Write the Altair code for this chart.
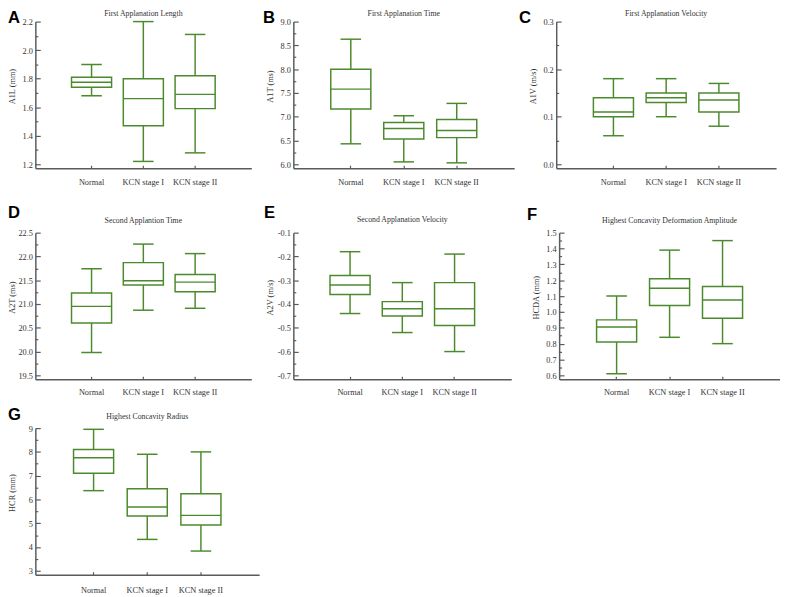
import altair as alt
import pandas as pd

groups = ["Normal", "KCN stage I", "KCN stage II"]

# A: First Applanation Length (mm)
a_min = [1.68, 1.22, 1.28]
a_q1 = [1.74, 1.47, 1.59]
a_med = [1.775, 1.66, 1.69]
a_q3 = [1.81, 1.80, 1.82]
a_max = [1.90, 2.20, 2.11]

# B: First Applanation Time (ms)
b_min = [6.43, 6.05, 6.03]
b_q1 = [7.16, 6.53, 6.56]
b_med = [7.58, 6.75, 6.71]
b_q3 = [8.00, 6.88, 6.94]
b_max = [8.63, 7.02, 7.28]

# C: First Applanation Velocity (m/s)
c_min = [0.06, 0.10, 0.08]
c_q1 = [0.10, 0.13, 0.11]
c_med = [0.11, 0.14, 0.135]
c_q3 = [0.14, 0.15, 0.15]
c_max = [0.18, 0.18, 0.17]

# D: Second Applantion Time (ms)
d_min = [19.98, 20.87, 20.91]
d_q1 = [20.60, 21.40, 21.26]
d_med = [20.95, 21.49, 21.46]
d_q3 = [21.23, 21.87, 21.62]
d_max = [21.74, 22.26, 22.06]

# E: Second Applanation Velocity (m/s)
e_min = [-0.44, -0.52, -0.60]
e_q1 = [-0.36, -0.45, -0.49]
e_med = [-0.32, -0.42, -0.42]
e_q3 = [-0.28, -0.39, -0.31]
e_max = [-0.18, -0.31, -0.19]

# F: Highest Concavity Deformation Amplitude (mm)
f_min = [0.61, 0.84, 0.80]
f_q1 = [0.81, 1.04, 0.96]
f_med = [0.905, 1.15, 1.075]
f_q3 = [0.95, 1.21, 1.16]
f_max = [1.10, 1.39, 1.45]

# G: Highest Concavity Radius (mm)
g_min = [6.37, 4.32, 3.83]
g_q1 = [7.10, 5.30, 4.93]
g_med = [7.75, 5.68, 5.33]
g_q3 = [8.10, 6.45, 6.24]
g_max = [8.95, 7.90, 8.00]

a_ticks = [1.2, 1.4, 1.6, 1.8, 2.0, 2.2]
a_minor = [1.3, 1.5, 1.7, 1.9, 2.1]
b_ticks = [6.0, 6.5, 7.0, 7.5, 8.0, 8.5, 9.0]
b_minor = [6.25, 6.75, 7.25, 7.75, 8.25, 8.75]
c_ticks = [0.0, 0.1, 0.2, 0.3]
c_minor = [0.05, 0.15, 0.25]
d_ticks = [19.5, 20.0, 20.5, 21.0, 21.5, 22.0, 22.5]
d_minor = [19.75, 20.25, 20.75, 21.25, 21.75, 22.25]
e_ticks = [-0.7, -0.6, -0.5, -0.4, -0.3, -0.2, -0.1]
e_minor = [-0.65, -0.55, -0.45, -0.35, -0.25, -0.15]
f_ticks = [0.6, 0.7, 0.8, 0.9, 1.0, 1.1, 1.2, 1.3, 1.4, 1.5]
f_minor = [0.65, 0.75, 0.85, 0.95, 1.05, 1.15, 1.25, 1.35, 1.45]
g_ticks = [3, 4, 5, 6, 7, 8, 9]
g_minor = [3.5, 4.5, 5.5, 6.5, 7.5, 8.5]

GREEN = "#4b8a2c"
AXC = "#5a5a5a"
TXT = "#333333"
SERIF = "Liberation Serif"
PH = 146   # plot height from lowest to highest tick
OFF = 4    # gap between lowest tick and x axis line


def panel(letter, title, ytitle, mins, q1s, meds, q3s, maxs, ticks, minor, fmt,
          W, xl, Hc, yt, letter_dx, letter_dy, title_dy, lab_pad):
    df = pd.DataFrame({"group": groups, "lo": mins, "q1": q1s, "med": meds,
                       "q3": q3s, "hi": maxs})
    ymin, ymax = ticks[0], ticks[-1]
    rng = ymax - ymin
    dom_lo = ymin - OFF * rng / PH
    ysc = alt.Scale(domain=[dom_lo, ymax], nice=False, zero=False,
                    range=[Hc, yt])
    xsc = alt.Scale(domain=groups, paddingInner=0, paddingOuter=0.585,
                    range=[xl, W])
    label_expr = "replace(format(datum.value, '%s'), '\u2212', '-')" % fmt

    base = alt.Chart(df)

    x_main = alt.X("group:N", sort=groups, scale=xsc, title=None,
                   axis=alt.Axis(orient="bottom", ticks=False, domain=True,
                                 domainColor=AXC, domainWidth=1.5,
                                 labelAngle=0, labelPadding=lab_pad,
                                 labelFont=SERIF, labelFontSize=8.5,
                                 labelColor=TXT, grid=False))
    y_main = alt.Y("lo:Q", scale=ysc,
                   axis=alt.Axis(orient="left", offset=-xl, values=ticks,
                                 ticks=False, domain=True, domainColor=AXC,
                                 domainWidth=1.5, labelExpr=label_expr,
                                 labelPadding=3, labelFont=SERIF,
                                 labelFontSize=8.5, labelColor=TXT, grid=False,
                                 title=ytitle, titleFont=SERIF,
                                 titleFontSize=8.5, titleFontWeight="normal",
                                 titleColor=TXT, titleX=-21,
                                 titleY=yt + PH / 2 - 7,
                                 titleBaseline="alphabetic"))
    wlo = base.mark_rule(color=GREEN, strokeWidth=1.5).encode(
        x=x_main, y=y_main, y2="q1:Q")

    x_top = alt.X("group:N", sort=groups, scale=xsc, title=None,
                  axis=alt.Axis(orient="top", offset=-Hc, labels=False,
                                domain=False, ticks=True, tickSize=3,
                                tickColor=AXC, tickWidth=1.2, grid=False))
    y_right = alt.Y("q3:Q", scale=ysc, title=None,
                    axis=alt.Axis(orient="right", offset=xl - W, values=ticks,
                                  labels=False, domain=False, ticks=True,
                                  tickSize=5, tickColor=AXC, tickWidth=1.2,
                                  grid=False))
    whi = base.mark_rule(color=GREEN, strokeWidth=1.5).encode(
        x=x_top, y=y_right, y2="hi:Q")

    x_none = alt.X("group:N", sort=groups, scale=xsc, axis=None)
    y_minor = alt.Y("q1:Q", scale=ysc, title=None,
                    axis=alt.Axis(orient="right", offset=xl - W, values=minor,
                                  labels=False, domain=False, ticks=True,
                                  tickSize=2.5, tickColor=AXC, tickWidth=1.2,
                                  grid=False))
    box = base.mark_bar(fill="white", stroke=GREEN, strokeWidth=1.5,
                        size=41).encode(x=x_none, y=y_minor, y2="q3:Q")

    med = base.mark_tick(color=GREEN, thickness=1.5, size=41, opacity=1).encode(
        x=x_none, y=alt.Y("med:Q", scale=ysc, axis=None))
    cap_lo = base.mark_tick(color=GREEN, thickness=1.5, size=21, opacity=1).encode(
        x=x_none, y=alt.Y("lo:Q", scale=ysc, axis=None))
    cap_hi = base.mark_tick(color=GREEN, thickness=1.5, size=21, opacity=1).encode(
        x=x_none, y=alt.Y("hi:Q", scale=ysc, axis=None))

    let = alt.Chart(pd.DataFrame({"t": [letter]})).mark_text(
        font="Liberation Sans", fontWeight="bold", fontSize=17, align="left",
        baseline="top", color="black").encode(
        text="t:N", x=alt.value(xl + letter_dx), y=alt.value(yt + letter_dy))
    ttl = alt.Chart(pd.DataFrame({"t": [title]})).mark_text(
        font=SERIF, fontSize=8, align="center", baseline="middle",
        color=TXT).encode(
        text="t:N", x=alt.value((xl + W) / 2), y=alt.value(yt + title_dy))

    return alt.layer(wlo, whi, box, med, cap_lo, cap_hi, let, ttl).resolve_axis(
        x="independent", y="independent").properties(width=W, height=Hc)


H1, Y1 = 150, 0
H2, Y2 = 176, 26
H3, Y3 = 160, 10

pA = panel("A", "First Applanation Length", "A1L (mm)", a_min, a_q1, a_med, a_q3,
           a_max, a_ticks, a_minor, ".1f", 221, 0, H1, Y1, -28, -12, -8, 10)
pB = panel("B", "First Applanation Time", "A1T (ms)", b_min, b_q1, b_med, b_q3,
           b_max, b_ticks, b_minor, ".1f", 226, 0, H1, Y1, -31, -12, -8, 10)
pC = panel("C", "First Applanation Velocity", "A1V (m/s)", c_min, c_q1, c_med,
           c_q3, c_max, c_ticks, c_minor, ".1f", 233, 8, H1, Y1, -38, -12, -8, 10)
pD = panel("D", "Second Applantion Time", "A2T (ms)", d_min, d_q1, d_med, d_q3,
           d_max, d_ticks, d_minor, ".1f", 221, 0, H2, Y2, -28, -28, -12, 9)
pE = panel("E", "Second Applanation Velocity", "A2V (m/s)", e_min, e_q1, e_med,
           e_q3, e_max, e_ticks, e_minor, ".1f", 223, 0, H2, Y2, -30, -28, -13, 9)
pF = panel("F", "Highest Concavity Deformation Amplitude", "HCDA (mm)", f_min,
           f_q1, f_med, f_q3, f_max, f_ticks, f_minor, ".1f", 237, 11, H2, Y2,
           -33, -26, -12, 9)
pG = panel("G", "Highest Concavity Radius", "HCR (mm)", g_min, g_q1, g_med,
           g_q3, g_max, g_ticks, g_minor, "d", 229, 0, H3, Y3, -28, -21, -11.5,
           11)

chart = alt.concat(pA, pB, pC, pD, pE, pF, pG, columns=3,
                   spacing={"row": 40, "column": 35}, bounds="flush",
                   align="none").properties(
    padding={"top": -6, "left": 0, "right": 0, "bottom": 0}).configure_view(
    stroke=None).configure_axis(grid=False)

chart.save("out.html", embed_options={"renderer": "svg", "actions": False})
